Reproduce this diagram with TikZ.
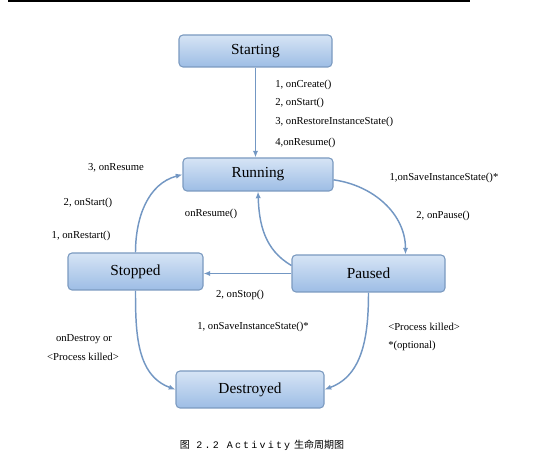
\documentclass[tikz,border=0pt]{standalone}
\usepackage{fontspec}
\setmainfont{Liberation Serif}
\newfontfamily\cjk{Noto Sans CJK SC}
\newfontfamily\capmono[LetterSpace=22]{Liberation Mono}
\usetikzlibrary{arrows.meta}

\definecolor{boxline}{HTML}{7B9AC0}
\definecolor{boxtop}{HTML}{D6E4F5}
\definecolor{boxbot}{HTML}{9DBDE5}
\definecolor{flow}{HTML}{7397C3}

\tikzset{
  state/.style={draw=boxline, line width=0.8pt, rounded corners=3pt,
    top color=boxtop, bottom color=boxbot, font=\fontsize{11.5}{13}\selectfont},
  trans/.style={-{Latex[length=5pt,width=4pt]}, draw=flow, line width=1.1pt},
  lbl/.style={font=\fontsize{8}{9}\selectfont, inner sep=0pt}
}

\begin{document}
\begin{tikzpicture}[x=0.75pt, y=0.75pt]
  \useasboundingbox (0,0) rectangle (537,464);
  \draw[line width=0.8pt] (8,463) -- (470,463);

  % the five states
  \node[state, minimum width=114.75pt, minimum height=24pt]  (starting)  at (255.5,413)  {Starting};
  \node[state, minimum width=112.5pt, minimum height=24.75pt] (running)   at (258,289.5)  {Running};
  \node[state, minimum width=101.25pt, minimum height=27.75pt] (stopped)  at (135.5,192.5) {Stopped};
  \node[state, minimum width=114.75pt, minimum height=27.75pt] (paused)   at (368.5,190.5) {Paused};
  \node[state, minimum width=111pt, minimum height=27.75pt]  (destroyed) at (250,74.5)   {Destroyed};

  % transitions
  \draw[trans] (starting.south) -- (starting.south |- running.north);
  \draw[trans] ([yshift=-4pt]running.east) to[out=-8,in=90] ([xshift=27.75pt]paused.north);
  \draw[trans] ([yshift=6pt]paused.west) to[out=150,in=-88] (running.south);
  \draw[trans] (paused.west) -- (stopped.east |- paused.west);
  \draw[trans] (stopped.north) to[out=90,in=195] (running.west);
  \draw[trans] (stopped.south) to[out=-90,in=160] (destroyed.west);
  \draw[trans] (paused.south) to[out=-90,in=20] (destroyed.east);

  % labels
  \node[lbl, anchor=west] (create1) at (275,379) {1, onCreate()};
  \node[lbl, anchor=west] (create2) at (275,361) {2, onStart()};
  \node[lbl, anchor=west] (create3) at (275,342) {3, onRestoreInstanceState()};
  \node[lbl, anchor=west] (create4) at (275,321) {4,onResume()};

  \node[lbl] (restart3) at (116,296) {3, onResume};
  \node[lbl] (restart2) at (88,261)  {2, onStart()};
  \node[lbl] (restart1) at (81,228)  {1, onRestart()};

  \node[lbl] (resume)  at (211,250) {onResume()};
  \node[lbl] (pause1)  at (444,286) {1,onSaveInstanceState()*};
  \node[lbl] (pause2)  at (443,248) {2, onPause()};

  \node[lbl] (stop2)   at (240,169) {2, onStop()};
  \node[lbl] (stop1)   at (253,137) {1, onSaveInstanceState()*};

  \node[lbl] (destroy1) at (84,125) {onDestroy or};
  \node[lbl] (destroy2) at (83,107) {<Process killed>};
  \node[lbl, anchor=west] (killed1) at (388,137) {<Process killed>};
  \node[lbl, anchor=west] (killed2) at (388,118) {*(optional)};

  \node[font=\fontsize{7.5}{8}\selectfont, inner sep=0pt] (caption) at (262,19)
    {\cjk 图\hspace{5pt}{\capmono 2.2}\hspace{6pt}{\capmono Activity}\hspace{3pt}生命周期图};
\end{tikzpicture}
\end{document}
